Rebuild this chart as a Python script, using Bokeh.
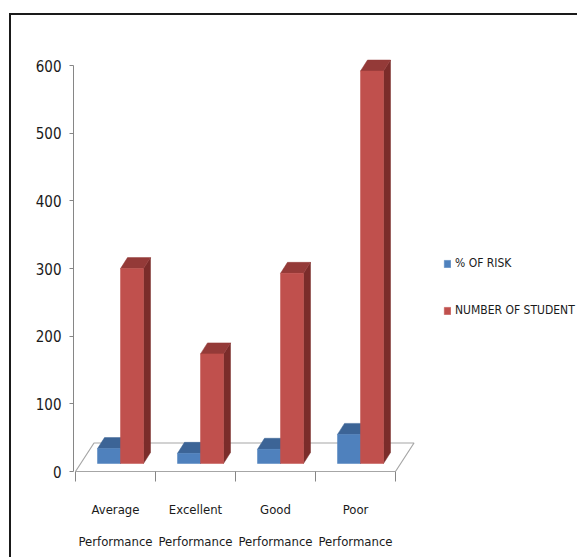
from bokeh.plotting import figure
from bokeh.models import (ColumnDataSource, FixedTicker, LinearAxis,
                          Range1d, Legend, LegendItem)
from bokeh.embed import file_html
from bokeh.resources import INLINE

# ---- data ----
categories = ["Average Performance", "Excellent Performance", "Good Performance", "Poor Performance"]
label_line1 = ["Average", "Excellent", "Good", "Poor"]
label_line2 = ["Performance", "Performance", "Performance", "Performance"]
risk = [22, 15, 21, 43]
students = [288, 162, 281, 580]
series_names = ["% OF RISK", "NUMBER OF STUDENT"]
y_ticks = [0, 100, 200, 300, 400, 500, 600]

# ---- geometry / style ----
OFF_X, OFF_Y = 11, 15          # canvas offset inside bordered box (window px)
W, H = 579 - OFF_X, 559 - OFF_Y
PX_X = 80.0
PX_Y = (471 - 65) / 600.0
BAR_DX = 5 / PX_X
BAR_DY = 8 / PX_Y
BAR_W = 23 / PX_X
DEP_DX = 7 / PX_X
DEP_DY = 11 / PX_Y
FLOOR_DX = 18.5 / PX_X
FLOOR_DY = 28.5 / PX_Y
FONT = "DejaVu Sans Condensed, Liberation Sans, sans-serif"

front_colors = ["#4F81BD", "#C0504D"]
top_colors = ["#3C6496", "#943A38"]
side_colors = ["#385D8A", "#7B2C2A"]

n = len(categories)
xpos = list(range(n))

frame_left = 73 - OFF_X
frame_top = 20 - OFF_Y
frame_bottom = 471 - OFF_Y

p = figure(width=W, height=H,
           x_range=Range1d(-0.5 - 2 / PX_X, -0.5 + (579 - 75) / PX_X),
           y_range=Range1d(0, (471 - 20) / PX_Y),
           output_backend="svg", toolbar_location=None,
           min_border_left=frame_left, min_border_right=0,
           min_border_top=frame_top, min_border_bottom=H - frame_bottom)
p.margin = (13, 0, 0, 9)
p.styles = {"border-top": "2px solid #1a1a1a", "border-left": "2px solid #1a1a1a"}
p.grid.visible = False
p.outline_line_color = None
p.background_fill_color = "white"
p.border_fill_color = "white"

# floor
fl_x = [-0.5, n - 0.5, n - 0.5 + FLOOR_DX, -0.5 + FLOOR_DX]
fl_y = [0, 0, FLOOR_DY, FLOOR_DY]
p.patch(fl_x, fl_y, fill_color="white", line_color="#A6A6A6", line_width=1.2)

renderers = []
for s, vals in enumerate([risk, students]):
    sx, sy, tx, ty, fx, fb, ft = [], [], [], [], [], [], []
    for i, v in zip(xpos, vals):
        x0 = i + BAR_DX - BAR_W + s * BAR_W
        x1 = x0 + BAR_W
        b = BAR_DY
        t = BAR_DY + v
        sx.append([x1, x1 + DEP_DX, x1 + DEP_DX, x1])
        sy.append([b, b + DEP_DY, t + DEP_DY, t])
        tx.append([x0, x1, x1 + DEP_DX, x0 + DEP_DX])
        ty.append([t, t, t + DEP_DY, t + DEP_DY])
        fx.append((x0 + x1) / 2)
        fb.append(b)
        ft.append(t)
    p.patches(sx, sy, fill_color=side_colors[s], line_color=side_colors[s], line_width=0.5)
    p.patches(tx, ty, fill_color=top_colors[s], line_color=top_colors[s], line_width=0.5)
    src = ColumnDataSource(dict(x=fx, bottom=fb, top=ft))
    r = p.vbar(x="x", bottom="bottom", top="top", width=BAR_W, source=src,
               fill_color=front_colors[s], line_color=front_colors[s], line_width=0.5)
    renderers.append(r)

# y axis
ya = p.yaxis[0]
ya.ticker = FixedTicker(ticks=y_ticks)
ya.bounds = (0, 600)
ya.axis_line_color = "#868686"
ya.major_tick_line_color = "#868686"
ya.major_tick_out = 4
ya.major_tick_in = 0
ya.minor_tick_line_color = None
ya.major_label_text_font = FONT
ya.major_label_text_font_size = "15px"
ya.major_label_text_color = "#1a1a1a"
ya.major_label_standoff = 8

# x axis (first line + boundary ticks)
xa = p.xaxis[0]
xa.ticker = FixedTicker(ticks=xpos, minor_ticks=[i - 0.5 for i in xpos] + [n - 0.5])
xa.bounds = (-0.5, n - 0.5)
xa.axis_line_color = "#A6A6A6"
xa.major_tick_line_color = None
xa.major_tick_out = 0
xa.major_tick_in = 0
xa.minor_tick_line_color = "#868686"
xa.minor_tick_out = 10
xa.minor_tick_in = 0
xa.major_label_overrides = {i: t for i, t in zip(xpos, label_line1)}
xa.major_label_text_font = FONT
xa.major_label_text_font_size = "13px"
xa.major_label_text_color = "#1a1a1a"
xa.major_label_standoff = 20

# x axis second line
xb = LinearAxis(ticker=FixedTicker(ticks=xpos),
                major_label_overrides={i: t for i, t in zip(xpos, label_line2)})
xb.axis_line_color = None
xb.major_tick_line_color = None
xb.minor_tick_line_color = None
xb.major_tick_out = 0
xb.major_tick_in = 0
xb.major_label_text_font = FONT
xb.major_label_text_font_size = "13px"
xb.major_label_text_color = "#1a1a1a"
xb.major_label_standoff = 14
p.add_layout(xb, "below")

# legend
legend = Legend(items=[LegendItem(label=series_names[k], renderers=[renderers[k]]) for k in range(2)],
                location=(370, 152), orientation="vertical")
legend.glyph_width = 8
legend.glyph_height = 9
legend.label_height = 18
legend.spacing = 29
legend.label_standoff = 4
legend.padding = 0
legend.margin = 0
legend.border_line_color = None
legend.background_fill_alpha = 0
legend.label_text_font = FONT
legend.label_text_font_size = "12px"
legend.label_text_color = "#1a1a1a"
p.add_layout(legend)

open("out.html", "w").write(file_html(p, INLINE))
